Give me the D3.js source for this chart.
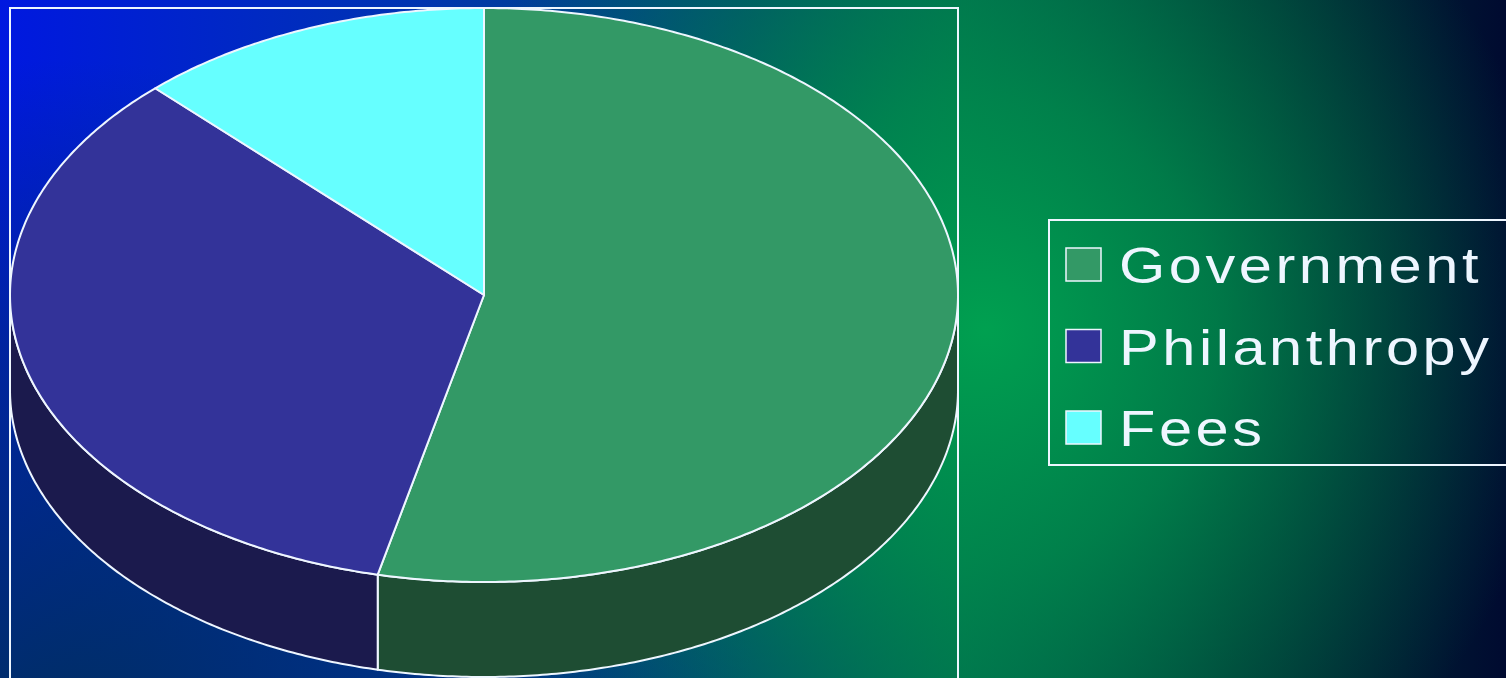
<!DOCTYPE html>
<html><head><meta charset="utf-8">
<script src="https://cdn.jsdelivr.net/npm/d3@7"></script>
<style>html,body{margin:0;padding:0;overflow:hidden;background:#000}</style>
</head><body>
<script>
const categories = ["Government", "Philanthropy", "Fees"];
const values = [53.6, 34.2, 12.2];
const topColors = ["#339966", "#333399", "#66ffff"];
const sideColors = ["#1e4d33", "#1b1a4d", "#2a8080"];

const W = 1506, H = 678;
const svg = d3.select("body").append("svg").attr("width", W).attr("height", H);
const defs = svg.append("defs");

// background gradients
const lg = defs.append("linearGradient").attr("id", "bgLin").attr("x1", 0).attr("y1", 0).attr("x2", 1).attr("y2", 0);
[[0, "#0018e0"], [0.28, "#0034b0"], [0.5, "#005070"], [0.64, "#007050"], [0.82, "#003a38"], [1, "#000a30"]]
  .forEach(([o, c]) => lg.append("stop").attr("offset", o).attr("stop-color", c));
const rg1 = defs.append("radialGradient").attr("id", "bgGlow").attr("gradientUnits", "userSpaceOnUse")
  .attr("cx", 985).attr("cy", 330).attr("r", 580);
[[0, "#00a050", 1], [0.4, "#008c4c", 0.75], [1, "#007048", 0]]
  .forEach(([o, c, op]) => rg1.append("stop").attr("offset", o).attr("stop-color", c).attr("stop-opacity", op));
const rg2 = defs.append("radialGradient").attr("id", "bgDark").attr("gradientUnits", "userSpaceOnUse")
  .attr("cx", 60).attr("cy", 760).attr("r", 700);
[[0, "#003058", 0.95], [0.6, "#003060", 0.5], [1, "#003060", 0]]
  .forEach(([o, c, op]) => rg2.append("stop").attr("offset", o).attr("stop-color", c).attr("stop-opacity", op));

svg.append("rect").attr("width", W).attr("height", H).attr("fill", "url(#bgLin)");
svg.append("rect").attr("width", W).attr("height", H).attr("fill", "url(#bgDark)");
svg.append("rect").attr("width", W).attr("height", H).attr("fill", "url(#bgGlow)");

const stroke = "#eef6ff";

// plot area frame
svg.append("rect").attr("x", 10).attr("y", 8).attr("width", 948).attr("height", 690)
  .attr("fill", "none").attr("stroke", stroke).attr("stroke-width", 2);

// 3D pie
const cx = 484, cy = 295, rx = 474, ry = 287, depth = 95;
const pie = d3.pie().sort(null).value(d => d.value).startAngle(0).endAngle(2 * Math.PI);
const data = categories.map((c, i) => ({ name: c, value: values[i], i }));
const arcs = pie(data);

const pt = (a, dy = 0) => [cx + rx * Math.sin(a), cy - ry * Math.cos(a) + dy];
const line = d3.line();
function arcPts(a0, a1, dy) {
  const n = Math.max(2, Math.ceil(Math.abs(a1 - a0) / 0.01));
  return d3.range(n + 1).map(k => pt(a0 + (a1 - a0) * k / n, dy));
}

const g = svg.append("g");
arcs.forEach(a => {
  const s = Math.max(a.startAngle, Math.PI / 2), e = Math.min(a.endAngle, 3 * Math.PI / 2);
  if (e <= s) return;
  const pts = arcPts(s, e, 0).concat(arcPts(e, s, depth));
  g.append("path").attr("d", line(pts) + "Z")
    .attr("fill", sideColors[a.data.i]).attr("stroke", stroke).attr("stroke-width", 2)
    .attr("stroke-linejoin", "round");
});
arcs.forEach(a => {
  const pts = [[cx, cy]].concat(arcPts(a.startAngle, a.endAngle, 0));
  g.append("path").attr("d", line(pts) + "Z")
    .attr("fill", topColors[a.data.i]).attr("stroke", stroke).attr("stroke-width", 2)
    .attr("stroke-linejoin", "round");
});

// legend
const leg = svg.append("g");
leg.append("rect").attr("x", 1049).attr("y", 220).attr("width", 470).attr("height", 245)
  .attr("fill", "none").attr("stroke", stroke).attr("stroke-width", 2);
const ly = d3.scalePoint().domain(categories).range([265, 428]);
categories.forEach((c, i) => {
  const y = ly(c);
  leg.append("rect").attr("x", 1066).attr("y", y - 17).attr("width", 35).attr("height", 33)
    .attr("fill", topColors[i]).attr("stroke", stroke).attr("stroke-width", 1.5);
  leg.append("text").attr("transform", `translate(1119,${y + 18}) scale(1.19,1)`).text(c)
    .attr("fill", "#eef6ff").attr("font-family", "'Liberation Sans', Arial, sans-serif")
    .attr("font-size", 50).attr("letter-spacing", 3);
});
</script>
</body></html>
